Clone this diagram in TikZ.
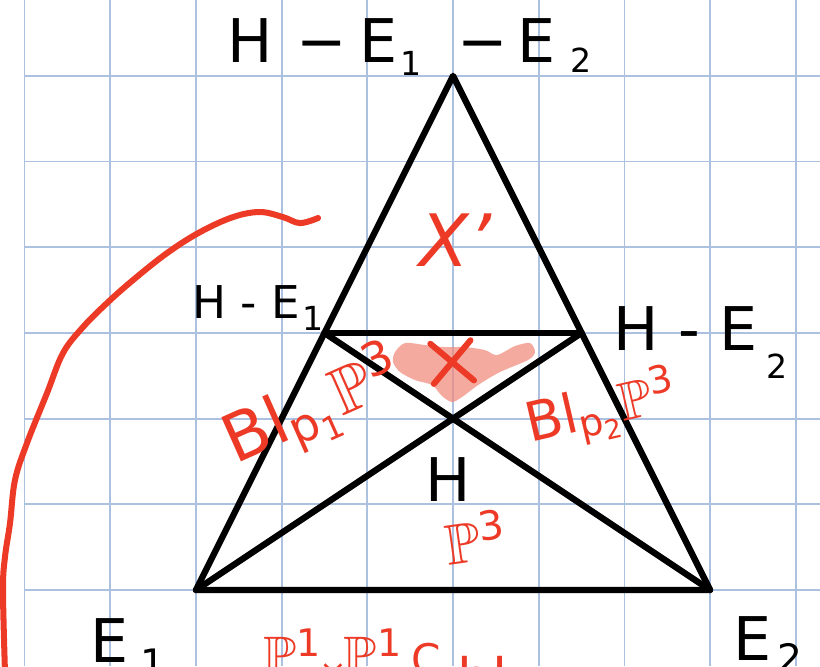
\documentclass[tikz,border=0pt]{standalone}
\usepackage{amssymb}
\usepackage{fontspec}
\setmainfont{DejaVu Sans}
\usetikzlibrary{shapes.misc}

\definecolor{gridblue}{RGB}{172,193,224}
\definecolor{ink}{RGB}{236,58,38}
\definecolor{blob}{RGB}{241,134,119}
\newcommand{\bbP}{$\mathbb{P}$}
\newcommand{\lowdigit}[2]{\raisebox{#1}{\fontsize{11}{11}\selectfont #2}}

\begin{document}
\begin{tikzpicture}[
    gridline/.style={draw=gridblue, line width=0.6pt},
    edge/.style={line width=2.1pt, line cap=round, line join=round},
    blk/.style={inner sep=0pt, anchor=base west},
    redtxt/.style={inner sep=0pt, text=ink},
    stroke/.style={draw=ink, line width=2pt, line cap=round, line join=round}
]
\clip (-5.286,-0.887) rectangle (4.282,6.885);

% Grid
\foreach \x in {-5,...,4} \draw[gridline] (\x,-0.887) -- (\x,6.885);
\foreach \y in {0,...,6} \draw[gridline] (-5,\y) -- (4.282,\y);

% Corners
\coordinate (top) at (0,6);
\coordinate (e1) at (-3,0);
\coordinate (e2) at (3,0);
\coordinate (m1) at (-1.5,3);
\coordinate (m2) at (1.5,3);

% Shaded spot
\fill[blob, fill opacity=0.7] plot[smooth cycle, tension=0.5] coordinates {
    (-0.677,2.777) (-0.560,2.882) (-0.327,2.859) (-0.093,2.835) (0.140,2.835)
    (0.373,2.800) (0.513,2.742) (0.723,2.847) (0.898,2.882) (0.957,2.777)
    (0.875,2.684) (0.548,2.544) (0.292,2.392) (0.105,2.252) (-0.012,2.194)
    (-0.128,2.264) (-0.245,2.392) (-0.443,2.450) (-0.618,2.544) (-0.700,2.660)};
\node[cross out, draw=ink, line width=2pt, line cap=round, minimum size=0.4cm, inner sep=0pt, rotate=5] (mark) at (-0.01,2.66) {};

% Triangle
\draw[edge] (e1) -- (e2) -- (top) -- cycle;
\draw[edge] (m1) -- (m2);
\draw[edge] (m1) -- (e2);
\draw[edge] (m2) -- (e1);

% Red stroke on the left
\draw[stroke] plot[smooth, tension=0.6] coordinates {
    (-1.575,4.341) (-1.785,4.282) (-1.984,4.352) (-2.252,4.411) (-2.567,4.352)
    (-2.952,4.177) (-3.337,3.932) (-3.734,3.617) (-4.037,3.349) (-4.317,3.069)
    (-4.551,2.765) (-4.737,2.299) (-4.971,1.715) (-5.111,1.284) (-5.169,0.782)
    (-5.228,0.385) (-5.251,0) (-5.228,-0.95)};

% Black labels
\node[blk, font=\fontsize{20}{22}\selectfont] (toplbl) at (-2.64,6.15)
    {H\hspace{8pt}−\hspace{4pt}E\hspace{1pt}\lowdigit{-4pt}{1}\hspace{12pt}−\hspace{3pt}E\hspace{5pt}\lowdigit{-3pt}{2}};
\node[blk, font=\fontsize{15}{17}\selectfont] (leftlbl) at (-3.05,3.17) {H - E\hspace{1pt}\lowdigit{-4pt}{1}};
\node[blk, font=\fontsize{20}{22}\selectfont] (rightlbl) at (1.87,2.79) {H - E\hspace{3pt}\lowdigit{-9pt}{2}};
\node[blk, font=\fontsize{20}{22}\selectfont] (hlbl) at (-0.33,1.03) {H};
\node[blk, font=\fontsize{20}{22}\selectfont] (e1lbl) at (-4.24,-0.84) {E\hspace{4pt}\raisebox{-5pt}{\fontsize{13}{13}\selectfont 1}};
\node[blk, font=\fontsize{20}{22}\selectfont] (e2lbl) at (3.26,-0.82) {E\hspace{2pt}\raisebox{-4pt}{\fontsize{13}{13}\selectfont 2}};

% Red labels
\node[redtxt, anchor=base west, font=\itshape\fontsize{24}{26}\selectfont] (xlbl) at (-0.40,3.77) {X’};
\node[redtxt, rotate=24, font=\fontsize{22}{24}\selectfont] (bl1) at (-1.62,2.12) {Bl\textsubscript{p\textsubscript{1}}\bbP\textsuperscript{3}};
\node[redtxt, rotate=13, font=\fontsize{18}{20}\selectfont] (bl2) at (1.74,2.10) {Bl\textsubscript{p\textsubscript{2}}\bbP\textsuperscript{3}};
\node[redtxt, rotate=8, font=\fontsize{19}{21}\selectfont] (p3) at (0.26,0.62) {\bbP\textsuperscript{3}};
\node[redtxt, anchor=base west, font=\fontsize{18}{20}\selectfont] (pp) at (-2.22,-0.99)
    {\bbP\textsuperscript{1}\hspace{-1pt}\raisebox{-3pt}{\fontsize{11}{11}\selectfont ×}\hspace{-1pt}\bbP\textsuperscript{1}\hspace{3pt}{\fontsize{14}{14}\selectfont C}};
\node[redtxt, anchor=base west, font=\fontsize{18}{20}\selectfont] (cut) at (0.05,-1.25) {bl};

\end{tikzpicture}
\end{document}
